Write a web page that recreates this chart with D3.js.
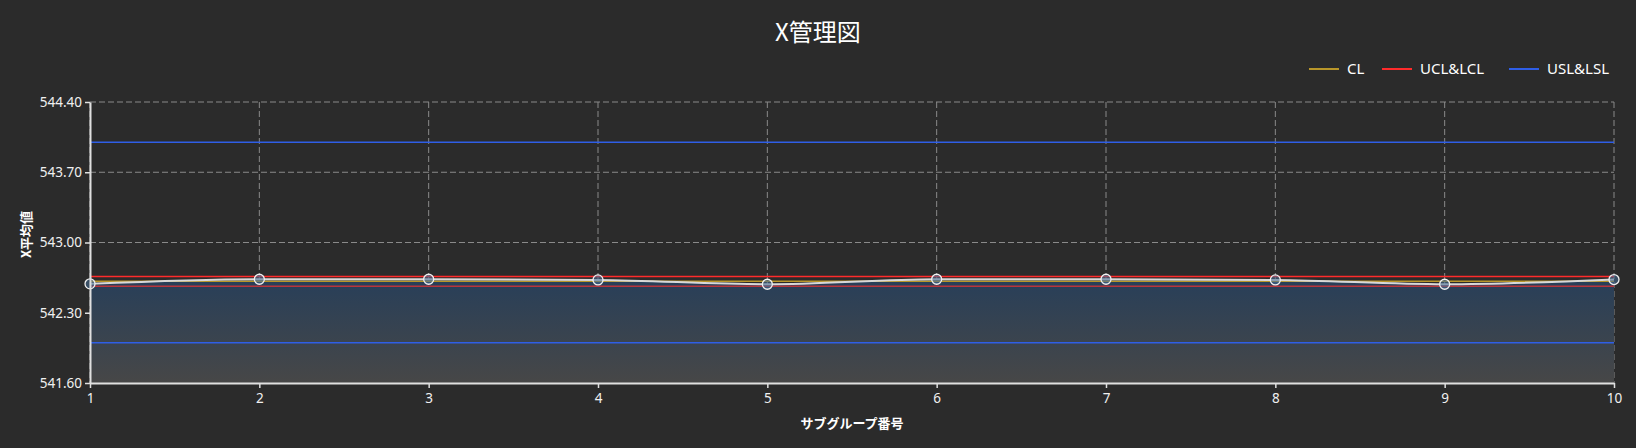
<!DOCTYPE html>
<html>
<head>
<meta charset="utf-8">
<script src="https://cdn.jsdelivr.net/npm/d3@7"></script>
<style>
  html, body { margin: 0; padding: 0; background: #2b2b2b; }
  svg { display: block; font-family: "Noto Sans", "Noto Sans CJK JP", sans-serif; }
</style>
</head>
<body>
<div id="chart"></div>
<script>
// subgroup numbers and X-bar values
const subgroups = [1, 2, 3, 4, 5, 6, 7, 8, 9, 10];
const xbarValues = [542.588, 542.634, 542.634, 542.627, 542.584, 542.634, 542.634, 542.627, 542.584, 542.631];
const yTicks = [541.6, 542.3, 543.0, 543.7, 544.4];
const limitNames = ["CL", "UCL&LCL", "USL&LSL"];
const limitColors = ["#b8962a", "#ff2b2b", "#2f5ee6"];
const clValue = 542.615;
const controlLimits = [542.66, 542.565]; // UCL, LCL
const specLimits = [544.0, 542.0];       // USL, LSL

const W = 1636, H = 448;
const margin = {top: 102, right: 22, bottom: 65, left: 90};
const width = W - margin.left - margin.right;
const height = H - margin.top - margin.bottom;

const svg = d3.select("#chart").append("svg")
  .attr("width", W)
  .attr("height", H);

const defs = svg.append("defs");
const grad = defs.append("linearGradient")
  .attr("id", "areaGrad")
  .attr("x1", 0).attr("y1", 0).attr("x2", 0).attr("y2", 1);
grad.append("stop").attr("offset", "0%").attr("stop-color", "#283f59");
grad.append("stop").attr("offset", "100%").attr("stop-color", "#474747");

const g = svg.append("g")
  .attr("transform", `translate(${margin.left}, ${margin.top})`);

const x = d3.scaleLinear()
  .domain([1, 10])
  .range([0, width]);

const y = d3.scaleLinear()
  .domain([541.6, 544.4])
  .range([height, 0]);

// grid
const grid = g.append("g").attr("class", "grid");
grid.selectAll(".gx")
  .data(subgroups)
  .enter().append("line")
  .attr("x1", d => x(d)).attr("x2", d => x(d))
  .attr("y1", 0).attr("y2", height)
  .attr("stroke", "#8a8a8a")
  .attr("stroke-width", 1)
  .attr("stroke-dasharray", "6,3");
grid.selectAll(".gy")
  .data(yTicks)
  .enter().append("line")
  .attr("x1", 0).attr("x2", width)
  .attr("y1", d => y(d)).attr("y2", d => y(d))
  .attr("stroke", "#8a8a8a")
  .attr("stroke-width", 1)
  .attr("stroke-dasharray", "6,3");

// area under the data line
const data = subgroups.map((s, i) => ({s, v: xbarValues[i]}));
const curve = d3.curveMonotoneX;

g.append("path")
  .datum(data)
  .attr("fill", "url(#areaGrad)")
  .attr("d", d3.area().curve(curve)
    .x(d => x(d.s))
    .y0(height)
    .y1(d => y(d.v)));

// limit lines
const hline = (val, color, w) => g.append("line")
  .attr("x1", 0).attr("x2", width)
  .attr("y1", y(val)).attr("y2", y(val))
  .attr("stroke", color)
  .attr("stroke-width", w);

hline(specLimits[0], limitColors[2], 1.5);
hline(specLimits[1], limitColors[2], 1.5);
hline(controlLimits[0], limitColors[1], 1.5);
hline(controlLimits[1], "#b8353d", 1.5);
hline(clValue, limitColors[0], 1.5);

// data line
g.append("path")
  .datum(data)
  .attr("fill", "none")
  .attr("stroke", "#d8d8d8")
  .attr("stroke-width", 2)
  .attr("d", d3.line().curve(curve)
    .x(d => x(d.s))
    .y(d => y(d.v)));

g.selectAll(".pt")
  .data(data)
  .enter().append("circle")
  .attr("cx", d => x(d.s))
  .attr("cy", d => y(d.v))
  .attr("r", 5)
  .attr("fill", "rgba(70,110,150,0.55)")
  .attr("stroke", "#f0f0f0")
  .attr("stroke-width", 1.3);

// axes
const xAxis = g.append("g")
  .attr("transform", `translate(0, ${height})`)
  .call(d3.axisBottom(x).tickValues(subgroups).tickFormat(d3.format("d")).tickSize(5).tickSizeOuter(0).tickPadding(5));
const yAxis = g.append("g")
  .call(d3.axisLeft(y).tickValues(yTicks).tickFormat(d3.format(".2f")).tickSize(5).tickSizeOuter(0).tickPadding(3));

[xAxis, yAxis].forEach(a => {
  a.select(".domain").attr("stroke", "#e0e0e0").attr("stroke-width", 2);
  a.selectAll(".tick line").attr("stroke", "#e0e0e0").attr("stroke-width", 1.5);
  a.selectAll(".tick text")
    .attr("fill", "#f0f0f0")
    .style("font-size", "13.5px")
    .style("font-family", "'Noto Sans', sans-serif");
});

// title
svg.append("text")
  .attr("x", W / 2)
  .attr("y", 41)
  .attr("text-anchor", "middle")
  .attr("fill", "#ffffff")
  .style("font-size", "24px")
  .style("font-family", "'Noto Sans CJK JP', sans-serif")
  .text("X管理図");

// axis titles
svg.append("text")
  .attr("x", margin.left + width / 2)
  .attr("y", 428)
  .attr("text-anchor", "middle")
  .attr("fill", "#ffffff")
  .style("font-size", "13px")
  .style("font-weight", "bold")
  .style("font-family", "'Noto Sans CJK JP', sans-serif")
  .text("サブグループ番号");

svg.append("text")
  .attr("transform", `translate(31, ${margin.top + height / 2 - 8}) rotate(-90)`)
  .attr("text-anchor", "middle")
  .attr("fill", "#ffffff")
  .style("font-size", "13px")
  .style("font-weight", "bold")
  .style("font-family", "'Noto Sans CJK JP', sans-serif")
  .text("X平均値");

// legend
const legendX = [1309, 1382, 1509];
const legend = svg.append("g");
limitNames.forEach((name, i) => {
  legend.append("line")
    .attr("x1", legendX[i]).attr("x2", legendX[i] + 30)
    .attr("y1", 69).attr("y2", 69)
    .attr("stroke", limitColors[i])
    .attr("stroke-width", 2);
  legend.append("text")
    .attr("x", legendX[i] + 38)
    .attr("y", 74)
    .attr("fill", "#ffffff")
    .style("font-size", "15px")
    .style("font-family", "'Noto Sans', sans-serif")
    .text(name);
});
</script>
</body>
</html>
